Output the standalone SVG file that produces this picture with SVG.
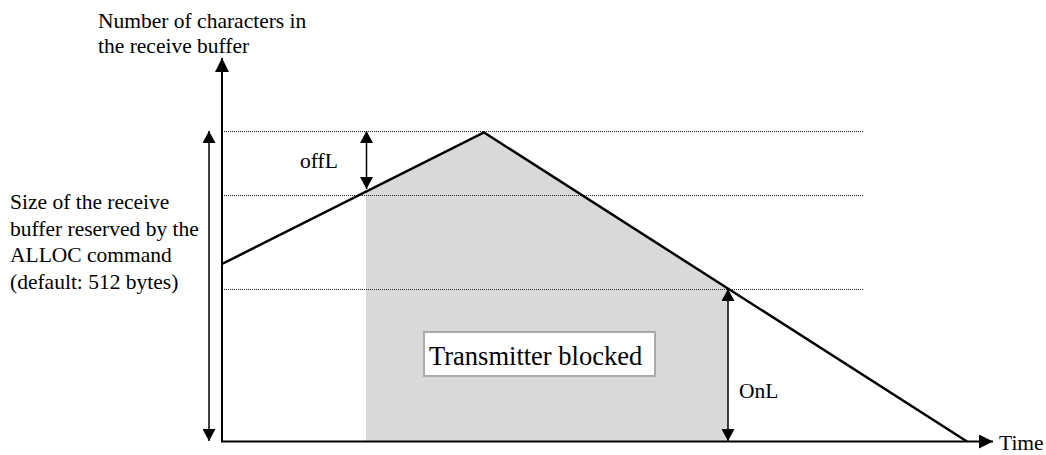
<svg xmlns="http://www.w3.org/2000/svg" width="1046" height="455" viewBox="0 0 1046 455">
<defs>
<marker id="ah" viewBox="0 0 12 12" refX="12" refY="6" markerWidth="12" markerHeight="12" markerUnits="userSpaceOnUse" orient="auto-start-reverse">
<path d="M0,0 L12,6 L0,12 Z" fill="#000"/>
</marker>
<marker id="ahs" viewBox="0 0 12 13" refX="12" refY="6.5" markerWidth="12" markerHeight="13" markerUnits="userSpaceOnUse" orient="auto-start-reverse">
<path d="M0,0 L12,6.5 L0,13 Z" fill="#000"/>
</marker>
<marker id="ahl" viewBox="0 0 14 14" refX="14" refY="7" markerWidth="14" markerHeight="14" markerUnits="userSpaceOnUse" orient="auto">
<path d="M0,0 L14,7 L0,14 Z" fill="#000"/>
</marker>
</defs>
<style>
text{font-family:"Liberation Serif","Times New Roman",serif;fill:#000;}
.lbl{font-size:21.5px;}
.dot{stroke:#222;stroke-width:1;stroke-dasharray:1 1;fill:none;}
.axis{stroke:#000;stroke-width:2;fill:none;}
.dim{stroke:#000;stroke-width:1.5;fill:none;}
.curve{stroke:#000;stroke-width:2.5;fill:none;stroke-linejoin:miter;}
</style>
<g id="shade">
<polygon points="366,441 366,192 484,132 728,289 728,441" fill="#d9d9d9"/>
</g>
<g id="guides">
<line class="dot" x1="222" y1="131.5" x2="863" y2="131.5"/>
<line class="dot" x1="222" y1="195.5" x2="863" y2="195.5"/>
<line class="dot" x1="222" y1="289.5" x2="863" y2="289.5"/>
</g>
<g id="connectors">
<line class="axis" x1="222" y1="441.5" x2="222" y2="58" marker-end="url(#ahl)"/>
<line class="axis" x1="221" y1="441.5" x2="993" y2="441.5" marker-end="url(#ahl)"/>
<line class="dim" x1="209" y1="131" x2="209" y2="441" marker-start="url(#ahs)" marker-end="url(#ahs)"/>
<line class="dim" x1="366.5" y1="131" x2="366.5" y2="189" marker-start="url(#ahs)" marker-end="url(#ahs)"/>
<line class="dim" x1="728" y1="289" x2="728" y2="441" marker-start="url(#ahs)" marker-end="url(#ahs)"/>
<polyline class="curve" points="222,264 484,132.5 967,441.5"/>
</g>
<g id="y-axis-label">
<text class="lbl" x="98" y="28">Number of characters in</text>
<text class="lbl" x="98" y="53">the receive buffer</text>
</g>
<g id="size-label">
<text class="lbl" x="10" y="209">Size of the receive</text>
<text class="lbl" x="10" y="235.5">buffer reserved by the</text>
<text class="lbl" x="10" y="262">ALLOC command</text>
<text class="lbl" x="10" y="288.5">(default: 512 bytes)</text>
</g>
<g id="offL">
<text class="lbl" x="300" y="168">offL</text>
</g>
<g id="OnL">
<text class="lbl" x="739" y="398">OnL</text>
</g>
<g id="time">
<text class="lbl" x="999" y="450">Time</text>
</g>
<g id="blocked">
<rect x="424" y="332" width="231" height="44" fill="#fff" stroke="#aaa" stroke-width="2"/>
<text x="429" y="365" font-size="26.5">Transmitter blocked</text>
</g>
</svg>
